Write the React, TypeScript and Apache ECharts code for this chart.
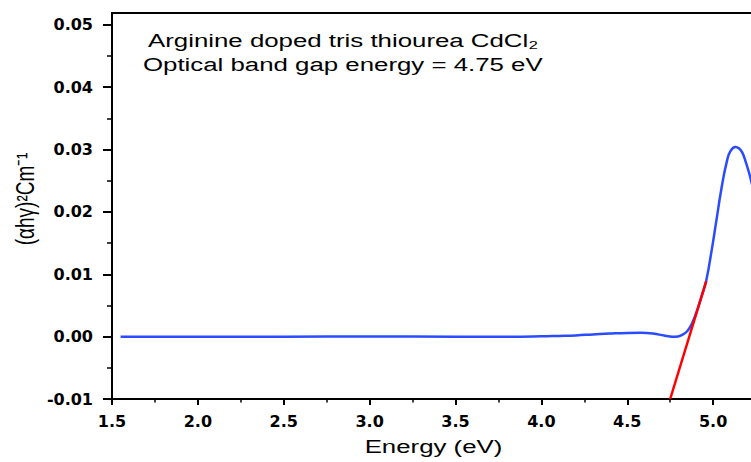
import React, { useEffect, useRef } from "react";
import * as echarts from "echarts";

// Energy (eV) and (αhγ)² values of the measured curve
const energy = [
  1.55, 2.0, 2.5, 3.0, 3.5, 3.8, 4.0, 4.1, 4.2, 4.3, 4.4, 4.5, 4.58, 4.65, 4.72,
  4.78, 4.82, 4.85, 4.88, 4.91, 4.94, 4.96, 4.99, 5.02, 5.05, 5.08, 5.1, 5.13,
  5.15, 5.17, 5.19, 5.21, 5.23, 5.26,
];
const absorb = [
  0, 0, 0, 0.00002, 0, 0, 0.00005, 0.00012, 0.0002, 0.00035, 0.0005, 0.0006,
  0.00062, 0.0005, 0.00015, -0.00003, 0.0003, 0.0009, 0.0023, 0.0045, 0.0071,
  0.009, 0.0136, 0.0188, 0.024, 0.0281, 0.0297, 0.0304, 0.0302, 0.0295, 0.028,
  0.0262, 0.024, 0.0205,
];
// linear fit (tangent) line
const fitEnergy = [4.75, 4.96];
const fitValue = [-0.01, 0.0089];

const yMajor = [-0.01, 0, 0.01, 0.02, 0.03, 0.04, 0.05];
const yMinor = [-0.005, 0.005, 0.015, 0.025, 0.035, 0.045];

const titleLine1 = "Arginine doped tris thiourea CdCl₂";
const titleLine2 = "Optical band gap energy = 4.75 eV";
const xName = "Energy (eV)";
const yName = "(αhγ)²Cm⁻¹";

export default function App() {
  const ref = useRef<HTMLDivElement>(null);
  useEffect(() => {
    if (!ref.current) return;
    const chart = echarts.init(ref.current, null, { renderer: "svg" });
    const font = "'Liberation Sans', Arial, sans-serif";
    const sx = 1.36;
    chart.setOption({
      animation: false,
      backgroundColor: "#ffffff",
      grid: {
        left: 112,
        top: 13,
        bottom: 63,
        right: 1,
        show: true,
        borderColor: "#000",
        borderWidth: 2,
        containLabel: false,
      },
      xAxis: {
        type: "value",
        min: 1.5,
        max: 5.5,
        interval: 0.5,
        axisLine: { onZero: false, lineStyle: { color: "#000", width: 2 } },
        axisTick: { length: 6, lineStyle: { color: "#000", width: 2 } },
        minorTick: { show: true, splitNumber: 2, length: 3.5, lineStyle: { color: "#000", width: 1.5 } },
        splitLine: { show: false },
        minorSplitLine: { show: false },
        axisLabel: {
          margin: 14,
          color: "#000",
          fontFamily: "'DejaVu Sans', sans-serif",
          fontWeight: "bold",
          fontSize: 16,
          showMaxLabel: false,
          formatter: (v: number) => v.toFixed(1),
        },
      },
      yAxis: [
        {
          type: "value",
          min: -0.01,
          max: 0.0519,
          axisLine: { show: true, onZero: false, lineStyle: { color: "#000", width: 2 } },
          axisTick: { show: true, length: 9, customValues: yMajor, lineStyle: { color: "#000", width: 2 } },
          splitLine: { show: false },
          axisLabel: {
            margin: 19,
            color: "#000",
            fontFamily: "'DejaVu Sans', sans-serif",
            fontWeight: "bold",
            fontSize: 16,
            customValues: yMajor,
            formatter: (v: number) => v.toFixed(2),
          },
        },
        {
          type: "value",
          min: -0.01,
          max: 0.0519,
          position: "left",
          axisLine: { show: false },
          axisTick: { show: true, length: 5, customValues: yMinor, lineStyle: { color: "#000", width: 1.5 } },
          splitLine: { show: false },
          axisLabel: { show: false },
        },
      ],
      series: [
        {
          type: "line",
          data: energy.map((e, i) => [e, absorb[i]]),
          smooth: true,
          showSymbol: false,
          lineStyle: { color: "#2a4bff", width: 2.5 },
          z: 2,
        },
        {
          type: "line",
          data: fitEnergy.map((e, i) => [e, fitValue[i]]),
          showSymbol: false,
          lineStyle: { color: "#ff0000", width: 2.5 },
          z: 3,
        },
      ],
      graphic: [
        {
          type: "text",
          x: 148,
          y: 40.7,
          scaleX: sx,
          style: { text: titleLine1, font: `19px ${font}`, fill: "#000", align: "left", verticalAlign: "middle" },
        },
        {
          type: "text",
          x: 143,
          y: 64.1,
          scaleX: sx,
          style: { text: titleLine2, font: `19px ${font}`, fill: "#000", align: "left", verticalAlign: "middle" },
        },
        {
          type: "text",
          x: 433.5,
          y: 446,
          scaleX: sx,
          style: { text: xName, font: `19px ${font}`, fill: "#000", align: "center", verticalAlign: "middle" },
        },
        {
          type: "text",
          x: 25,
          y: 199,
          rotation: Math.PI / 2,
          scaleY: sx,
          style: { text: yName, font: `19px ${font}`, fill: "#000", align: "center", verticalAlign: "middle" },
        },
      ],
    });
    return () => chart.dispose();
  }, []);
  return (
    <div style={{ position: "absolute", left: 0, top: 0, width: 751, height: 462, overflow: "hidden" }}>
      <div ref={ref} style={{ width: 800, height: 462 }} />
    </div>
  );
}
